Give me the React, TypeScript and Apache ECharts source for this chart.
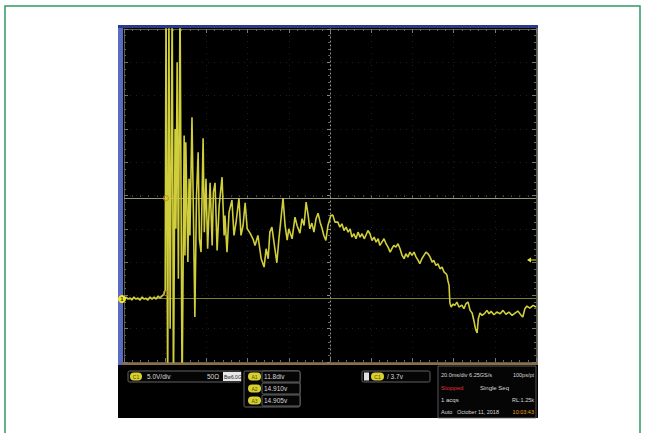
import React, { useEffect, useRef } from "react";
import * as echarts from "echarts";

// Horizontal position in graticule divisions (0..10)
const timeDiv = [
  0, 0.05, 0.1, 0.15, 0.19, 0.24, 0.29, 0.34, 0.39, 0.44, 0.49, 0.53, 0.58, 0.63, 0.68, 0.73, 0.78, 0.83, 0.87, 0.92, 0.97,
  1.0, 1.02, 1.06, 1.09, 1.12, 1.17, 1.2, 1.24, 1.26, 1.29, 1.32, 1.36, 1.41, 1.46, 1.48, 1.5, 1.55, 1.58, 1.6, 1.65,
  1.69, 1.72, 1.76, 1.8, 1.83, 1.87, 1.92, 1.95, 1.99, 2.03, 2.09, 2.14, 2.17, 2.21, 2.26, 2.31, 2.38, 2.43, 2.45, 2.5,
  2.55, 2.62, 2.67, 2.72, 2.79, 2.84, 2.89, 2.94, 2.99, 3.06, 3.13, 3.18, 3.25, 3.33, 3.4, 3.45, 3.5, 3.54, 3.59, 3.64,
  3.71, 3.76, 3.81, 3.86, 3.91, 3.96, 4.0, 4.08, 4.15, 4.2, 4.27, 4.32, 4.37, 4.42, 4.47, 4.51, 4.56, 4.61, 4.66, 4.71,
  4.76, 4.81, 4.85, 4.9, 4.95, 5.02, 5.07, 5.12,
  5.19, 5.24, 5.29, 5.34, 5.39, 5.44, 5.49, 5.53, 5.58, 5.63, 5.68, 5.73, 5.78, 5.83, 5.87, 5.92, 5.97, 6.02, 6.07, 6.12,
  6.17, 6.21, 6.26, 6.31, 6.36, 6.41, 6.46, 6.5, 6.55, 6.6, 6.65, 6.7, 6.75, 6.8, 6.84, 6.89, 6.94, 6.99, 7.04, 7.09,
  7.14, 7.18, 7.23, 7.28, 7.33, 7.38, 7.43, 7.48, 7.52, 7.57, 7.62, 7.67, 7.72, 7.77, 7.82, 7.84, 7.86, 7.89,
  7.91, 7.94, 7.99, 8.03, 8.08, 8.13, 8.2, 8.25, 8.3, 8.35, 8.4, 8.45, 8.5, 8.53, 8.57, 8.6, 8.64, 8.69, 8.76, 8.81,
  8.86, 8.91, 8.98, 9.05, 9.13, 9.2, 9.27, 9.34, 9.42, 9.49, 9.56, 9.64, 9.68, 9.73, 9.78, 9.85, 9.93, 10.0,
];

// Vertical position in divisions (centre = 0); values beyond ±5 are clipped off screen
const voltDiv = [
  -3.11, -3.05, -3.11, -3.08, -3.14, -3.05, -3.11, -3.08, -3.14, -3.05, -3.11, -3.08, -3.14, -3.05, -3.11, -3.05, -3.11, -3.02, -3.08, -3.02, -2.96,
  -2.83, 6, -6, 5.5, -4, 6, -6, 2.0, -1.0, 4.0, -2.5, 6, -6, 1.8, -1.8, 1.6, -2.0, 0.5, -1.2, 2.35,
  -1.0, -3.65, 0, 1.3, -1.3, -1.7, 1.72, -1.1, 0.5, -1.6, 0.38, -1.5, 0.1, 0.38, -1.65, -0.3, 0.55, -1.2, -0.6, -1.7,
  -0.5, -0.14, -1.2, -0.8, -0.08, -1.2, -0.9, -0.22, -1.0, -1.13, -1.3, -1.5, -1.2, -1.9, -2.15, -1.6, -1.9, -1.1, -0.95, -1.4,
  -2.02, -1.3, -0.7, -0.08, -0.9, -1.34, -1.0, -1.3, -0.65, -0.9, -1.13, -0.7, -0.9, -0.2, -0.6, -1.0, -0.83, -1.1, -0.7, -0.53,
  -0.8, -1.0, -1.2, -1.35, -0.9, -0.6, -0.59, -0.8,
  -0.8, -0.95, -0.85, -1.05, -0.95, -1.1, -1.0, -1.25, -1.15, -1.3, -1.1, -1.25, -1.15, -1.3, -1.2, -1.05, -1.15, -1.35, -1.25, -1.4,
  -1.3, -1.5, -1.4, -1.3, -1.45, -1.55, -1.7, -1.6, -1.5, -1.55, -1.45, -1.6, -1.8, -1.9, -1.75, -1.85, -1.7, -1.8, -1.7, -1.85,
  -1.95, -2.05, -1.9, -1.8, -1.7, -1.75, -1.85, -2.0, -1.95, -2.1, -2.05, -2.2, -2.15, -2.3, -2.35, -2.4, -2.55, -2.7,
  -3.23, -3.35, -3.26, -3.3, -3.2, -3.35, -3.29, -3.4, -3.25, -3.2, -3.45, -3.53, -3.8, -4.0, -4.13, -3.7, -3.53, -3.6, -3.53, -3.45,
  -3.55, -3.48, -3.58, -3.5, -3.55, -3.45, -3.57, -3.5, -3.6, -3.53, -3.47, -3.6, -3.65, -3.4, -3.32, -3.38, -3.3, -3.35,
];

const cursorLevels = [-0.08, -3.08];
const cursorMarkers = [
  [1.02, -0.08],
  [1.02, -2.93],
];

const ch1Readout = ["5.0V/div", "50Ω", "Bw6.0G"];
const measureValues = ["11.8div", "14.910v", "14.905v"];
const triggerReadout = "/ 3.7v";
const acqLines = [
  ["20.0ms/div 6.25GS/s", "100ps/pt"],
  ["Stopped", "Single Seq"],
  ["1 acqs", "RL:1.25k"],
  ["Auto   October 11, 2018", "10:03:43"],
];

export default function App() {
  const ref = useRef<HTMLDivElement>(null);
  useEffect(() => {
    if (!ref.current) return;
    const chart = echarts.init(ref.current, undefined, { renderer: "svg" });
    const data = timeDiv.map((t, i) => [t, voltDiv[i]]);
    const font = "Liberation Sans";
    const txt = (x: number, y: number, s: string, fill = "#d8d8d8", size = 6.5, extra: any = {}) => ({
      type: "text",
      x,
      y,
      z: 120,
      style: { text: s, fill, font: `${size}px "${font}"`, textVerticalAlign: "middle", ...extra },
    });
    const pill = (x: number, y: number, w = 12, label = "C1") => ({
      type: "group",
      z: 120,
      children: [
        { type: "rect", shape: { x, y: y - 4, width: w, height: 8, r: 4 }, style: { fill: "#d8d030" }, z: 120 },
        {
          type: "text",
          x: x + w / 2,
          y,
          z: 121,
          style: { text: label, fill: "#4a4a00", font: `5px "${font}"`, textAlign: "center", textVerticalAlign: "middle" },
        },
      ],
    });
    const box = (x: number, y: number, w: number, h: number) => ({
      type: "rect",
      z: 110,
      shape: { x, y, width: w, height: h, r: 1.5 },
      style: { fill: "#050505", stroke: "#7a7a7a", lineWidth: 0.8 },
    });

    const graphics: any[] = [
      // page frame
      { type: "rect", z: -20, shape: { x: 5, y: 6, width: 635, height: 440 }, style: { fill: "#ffffff", stroke: "#2f9a64", lineWidth: 1.5 } },
      // scope screen
      { type: "rect", z: -15, shape: { x: 118, y: 25, width: 420, height: 393 }, style: { fill: "#000000" } },
      { type: "rect", z: -14, shape: { x: 118, y: 25, width: 5, height: 340 }, style: { fill: "#5a6cc0" } },
      { type: "rect", z: -14, shape: { x: 118, y: 25, width: 420, height: 3 }, style: { fill: "#2c3a8c" } },
      { type: "rect", z: -14, shape: { x: 536, y: 28, width: 2, height: 337 }, style: { fill: "#6a6a6a" } },
      { type: "rect", z: -14, shape: { x: 122, y: 362, width: 416, height: 3 }, style: { fill: "#8e6e44" } },
      // channel 1 ground marker
      { type: "circle", z: 130, shape: { cx: 122, cy: 299, r: 4 }, style: { fill: "#f0e830" } },
      {
        type: "text",
        x: 122,
        y: 299,
        z: 131,
        style: { text: "1", fill: "#303000", font: `bold 6px "${font}"`, textAlign: "center", textVerticalAlign: "middle" },
      },
      // trigger level arrow
      { type: "polyline", z: 130, shape: { points: [[528, 260], [536, 260]] }, style: { stroke: "#e8e040", lineWidth: 1 } },
      { type: "polygon", z: 130, shape: { points: [[527, 260], [531, 257.5], [531, 262.5]] }, style: { fill: "#e8e040" } },
      // readout boxes
      box(128, 371, 113, 11),
      pill(130, 376.5),
      txt(147, 376.5, ch1Readout[0]),
      txt(207, 376.5, ch1Readout[1]),
      { type: "rect", z: 115, shape: { x: 223, y: 372, width: 18, height: 9 }, style: { fill: "#e8e8e8" } },
      txt(224, 376.5, ch1Readout[2], "#202020", 5),
      box(244, 371, 56, 36),
      box(262, 371, 38, 11),
      box(262, 383, 38, 11),
      box(262, 395, 38, 11),
      pill(248, 376.5, 13, "A1"),
      pill(248, 388.5, 13, "A2"),
      pill(248, 400.5, 13, "A3"),
      txt(264, 376.5, measureValues[0]),
      txt(264, 388.5, measureValues[1]),
      txt(264, 400.5, measureValues[2]),
      box(362, 371, 68, 11),
      { type: "rect", z: 115, shape: { x: 364, y: 372.5, width: 5, height: 8 }, style: { fill: "#e0e0e0" } },
      pill(371, 376.5, 13),
      txt(387, 376.5, triggerReadout),
      { type: "rect", z: 110, shape: { x: 438, y: 366, width: 98, height: 52 }, style: { fill: "#050505", stroke: "#6a6a6a", lineWidth: 0.8 } },
      txt(441, 375, acqLines[0][0], "#d8d8d8", 5.5),
      txt(534, 375, acqLines[0][1], "#d8d8d8", 5.5, { textAlign: "right" }),
      txt(441, 388, acqLines[1][0], "#e03030", 6),
      txt(480, 388, acqLines[1][1], "#d8d8d8", 6),
      txt(441, 400, acqLines[2][0], "#d8d8d8", 6),
      txt(534, 400, acqLines[2][1], "#d8d8d8", 5.5, { textAlign: "right" }),
      txt(441, 412, acqLines[3][0], "#d8d8d8", 5.5),
      txt(534, 412, acqLines[3][1], "#e8a020", 5.5, { textAlign: "right" }),
    ];

    const edgeAxis = (extra: any) => ({
      type: "value",
      axisLabel: { show: false },
      axisLine: { show: true, onZero: false, lineStyle: { color: "#5a5a4a", width: 1 } },
      axisTick: { show: true, inside: true, length: 4, lineStyle: { color: "#777" } },
      minorTick: { show: true, splitNumber: 5, length: 2, lineStyle: { color: "#666" } },
      splitLine: { show: false },
      ...extra,
    });

    chart.setOption({
      animation: false,
      backgroundColor: "transparent",
      grid: { left: 124, top: 29, width: 412, height: 333, containLabel: false },
      xAxis: [
        edgeAxis({
          min: 0,
          max: 10,
          interval: 1,
          position: "bottom",
          splitLine: { show: true, lineStyle: { color: "#1e1e1e", type: [1, 5], width: 1 } },
        }),
        edgeAxis({ min: 0, max: 10, interval: 1, position: "top" }),
        edgeAxis({
          min: 0,
          max: 10,
          interval: 1,
          position: "bottom",
          offset: -166.5,
          axisLine: { show: false },
          axisTick: { show: true, inside: false, length: 2, lineStyle: { color: "#777" } },
          minorTick: { show: true, splitNumber: 5, length: 1.5, lineStyle: { color: "#555" } },
        }),
      ],
      yAxis: [
        edgeAxis({
          min: -5,
          max: 5,
          interval: 1,
          position: "left",
          splitLine: { show: true, lineStyle: { color: "#1e1e1e", type: [1, 5], width: 1 } },
        }),
        edgeAxis({ min: -5, max: 5, interval: 1, position: "right" }),
        edgeAxis({
          min: -5,
          max: 5,
          interval: 1,
          position: "left",
          offset: -206,
          axisLine: { show: true, onZero: false, lineStyle: { color: "#9a9a90", type: [1, 3], width: 1 } },
          axisTick: { show: true, inside: false, length: 3, lineStyle: { color: "#888" } },
        }),
      ],
      graphic: graphics,
      series: [
        {
          type: "line",
          data,
          showSymbol: false,
          clip: true,
          z: 5,
          lineStyle: { color: "#d0ce3a", width: 1.6 },
          markLine: {
            silent: true,
            symbol: "none",
            label: { show: false },
            data: [
              { yAxis: cursorLevels[0], lineStyle: { color: "#9a9670", width: 1, type: "solid" } },
              { yAxis: cursorLevels[1], lineStyle: { color: "#807c30", width: 1, type: "solid" } },
            ],
          },
        },
        {
          type: "scatter",
          data: cursorMarkers,
          symbol: "circle",
          symbolSize: 5,
          z: 6,
          itemStyle: { color: "rgba(0,0,0,0)", borderColor: "#c88a28", borderWidth: 1.2 },
        },
      ],
    });
    return () => chart.dispose();
  }, []);
  return <div ref={ref} style={{ position: "fixed", left: 0, top: 0, width: 645, height: 433, background: "#fff" }} />;
}
